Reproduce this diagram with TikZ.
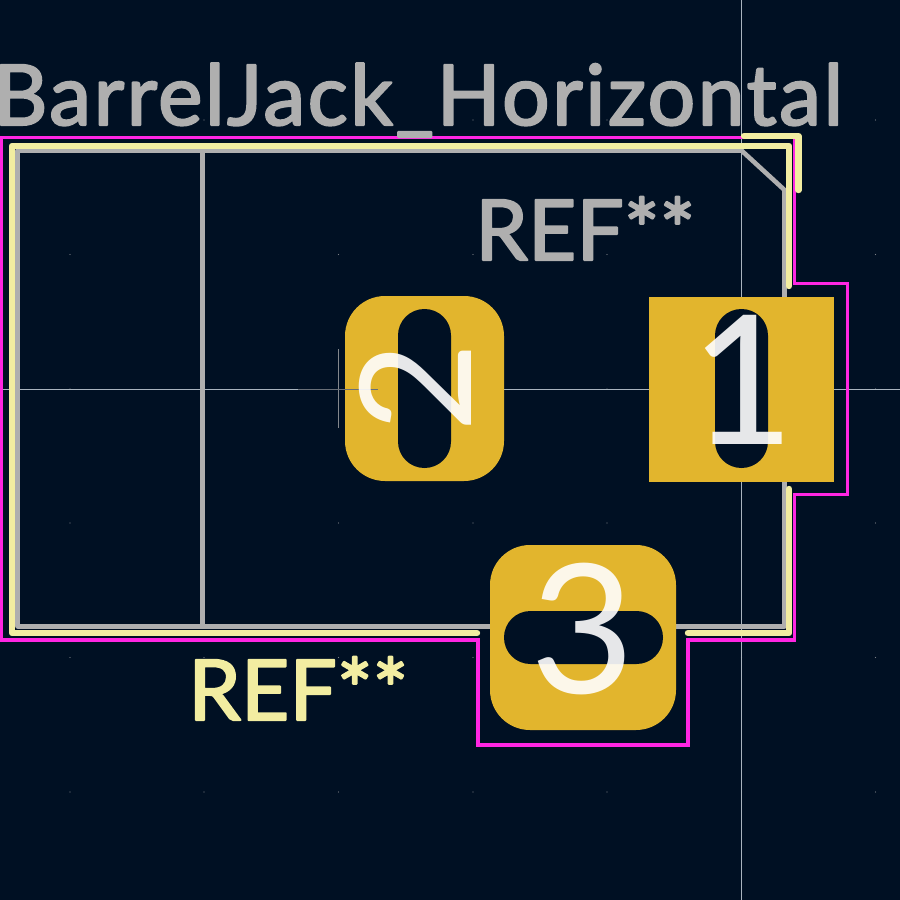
\documentclass[tikz,border=0pt]{standalone}
\usepackage{fontspec}
\setmainfont{Lato}
\newfontfamily\namefont[FakeBold=2.5,LetterSpace=3]{Lato}
\newfontfamily\reffont[FakeBold=2.5]{Lato}
\definecolor{boardbg}{HTML}{001023}
\definecolor{padcol}{HTML}{E2B52D}
\definecolor{courtcol}{HTML}{FF26E2}
\definecolor{silkcol}{HTML}{F2EDA1}
\definecolor{fabcol}{HTML}{AFAFAF}
\definecolor{axiscol}{HTML}{A9B4BE}
\tikzset{
  courtline/.style={draw=courtcol,line width=3.2pt,line join=miter},
  silkline/.style={draw=silkcol,line width=6.4pt,line cap=round,line join=round},
  fabline/.style={draw=fabcol,line width=4.6pt,line join=round},
  padbox/.style={fill=padcol,inner sep=0pt,minimum width=#1},
  holebox/.style={fill=boardbg,inner sep=0pt},
  padnum/.style={inner sep=0pt,text=white,text opacity=0.9,font=\fontsize{180}{180}\selectfont},
  reftext/.style={inner sep=0pt,anchor=base west,font=\reffont\fontsize{84}{84}\selectfont\special{pdf:code 1 J 1 j}}
}
\begin{document}
\begin{tikzpicture}[x=1pt,y=-1pt]
\fill[boardbg] (0,0) rectangle (900,900);
\useasboundingbox (0,0) rectangle (900,900);
\clip (0,0) rectangle (900,900);
\foreach \x in {70,204,338.5,473,607,741.5,875.5}
  \foreach \y in {120,254.5,389,523,657.5,792}
    \fill[fabcol!70!boardbg] (\x,\y) circle (0.6pt);
\draw[axiscol,line width=0.8pt] (741.5,0) -- (741.5,900);
\draw[axiscol,line width=0.8pt] (0,389) -- (900,389);
% courtyard
\draw[courtline] (0,137.5) -- (794.7,137.5) -- (794.7,283.5) -- (847.5,283.5) -- (847.5,494.5) -- (794.7,494.5) -- (794.7,640) -- (688,640) -- (688,745) -- (478,745) -- (478,640) -- (1.5,640) -- (1.5,137.5);
% fab outline
\draw[fabline] (741.5,150.5) -- (784.5,190) -- (784.5,626.5) -- (17.5,626.5) -- (17.5,150.5) -- cycle;
\draw[fabline] (202.5,150.5) -- (202.5,626.5);
% silkscreen
\draw[silkline] (477,633) -- (12,633) -- (12,146) -- (789,146) -- (789,286);
\draw[silkline] (789,489) -- (789,633) -- (688,633);
\draw[silkline] (744,136) -- (798.5,136) -- (798.5,190);
% pads
\node[padbox=185pt,minimum height=185pt] (pad1) at (741.5,389.5) {};
\node[padbox=159pt,minimum height=185pt,rounded corners=40pt] (pad2) at (424.5,388.5) {};
\node[padbox=186pt,minimum height=185pt,rounded corners=40pt] (pad3) at (583,637.5) {};
\foreach \x/\y/\w/\h/\n in {741.5/388.5/53/159/hole1, 424.5/388.5/53/159/hole2, 583.5/637.5/159/53/hole3}
  \node[holebox,minimum width=\w pt,minimum height=\h pt,rounded corners=26.4pt] (\n) at (\x,\y) {};
\draw[fabcol!75!boardbg,line width=0.8pt] (338.5,349) -- (338.5,428);
\draw[fabcol!60!boardbg,line width=0.8pt] (298,389) -- (378,389);
% pad numbers
\node[padnum] (num1) at (743,380) {1};
\node[padnum,rotate=90,font=\fontsize{155}{155}\selectfont] (num2) at (415.5,388) {2};
\node[padnum] (num3) at (583,629) {3};
% texts
\node[reftext,text=fabcol,font=\namefont\fontsize{84}{84}\selectfont\special{pdf:code 1 J 1 j}] (fpname) at (-7,125) {BarrelJack\_Horizontal};
\node[reftext,text=fabcol] (refgray) at (475,260) {REF**};
\node[reftext,text=silkcol] (refsilk) at (188,720) {REF**};
\end{tikzpicture}
\end{document}
